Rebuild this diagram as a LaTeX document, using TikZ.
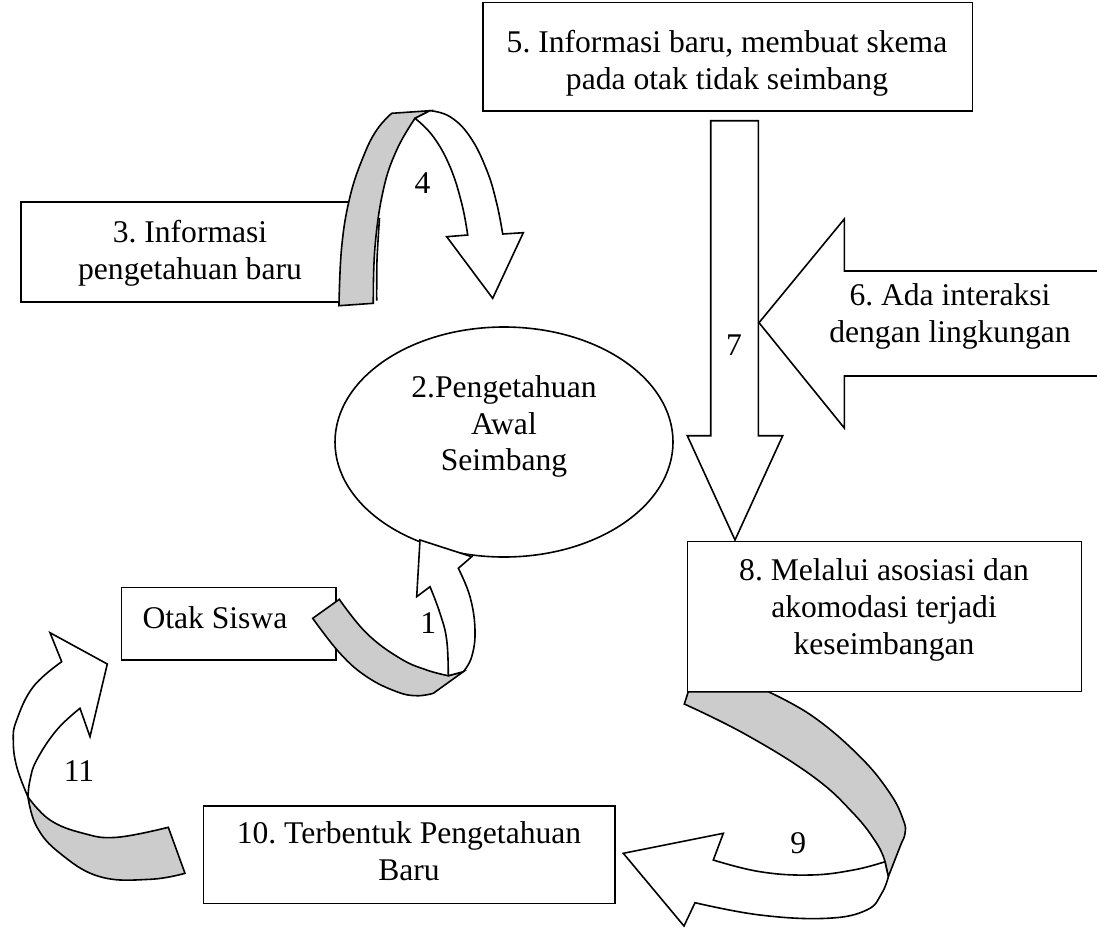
\documentclass[tikz,border=0pt]{standalone}
\usepackage{fontspec}
\setmainfont{Liberation Serif}
\usetikzlibrary{shapes.geometric}
\definecolor{bandgray}{gray}{0.8}
\frenchspacing
\begin{document}
\begin{tikzpicture}[x=0.5pt,y=-0.5pt, line width=0.8pt, line join=miter,
  txt/.style={anchor=base, inner sep=0pt, font=\fontsize{15.8pt}{18.5pt}\selectfont},
  boxnode/.style={draw, fill=white, anchor=north west, inner sep=0pt},
  band/.style={draw, fill=bandgray},
  front/.style={draw, fill=white}]
\useasboundingbox (0,0) rectangle (1097,927);

% ---- box 5
\node[boxnode, minimum width=244.85pt, minimum height=54.25pt] (b5) at (482,1.5) {};
\node[txt] (t5a) at (727,52) {5. Informasi baru, membuat skema};
\node[txt] (t5b) at (727,89) {pada otak tidak seimbang};

% ---- box 3
\node[boxnode, minimum width=167.5pt, minimum height=50pt] (b3) at (20,201) {};
\node[txt] (t3a) at (190,242) {3. Informasi};
\node[txt] (t3b) at (190,279) {pengetahuan baru};

% ---- arrow 4
\path[band] plot[smooth, tension=0.7] coordinates {(339,305.7) (341.7,246.7) (350,196.7) (363.3,156.7) (376.7,130) (391.7,113.3)}
  -- (430,110.7) -- (415,118.3)
  -- plot[smooth, tension=0.7] coordinates {(415,118.3) (396.7,150) (383.3,190) (375,246.7) (373.3,303.3)} -- cycle;
\draw plot[smooth] coordinates {(376.7,300.7) (377,260) (379.5,218)};
\path[front] (430,110.7) -- plot[smooth, tension=0.7] coordinates {(430,110.7) (450,116.7) (470,136.7) (486.7,170) (496.7,203.3) (502.7,234)}
  -- (523.3,232.7) -- (492.7,298.3) -- (446.7,236.7)
  -- plot[smooth, tension=0.7] coordinates {(467.7,235) (461.7,203.3) (450,166.7) (433.3,136.7) (415,118.3)} -- cycle;
\node[txt] (n4) at (422.5,193) {4};

% ---- ellipse 2
\node[draw, ellipse, fill=white, minimum width=169pt, minimum height=115pt, inner sep=0pt] (e2) at (504,442) {};
\node[txt] (t2a) at (504,397.3) {2.Pengetahuan};
\node[txt] (t2b) at (504,434) {Awal};
\node[txt] (t2c) at (504,470) {Seimbang};

% ---- Otak Siswa
\node[boxnode, minimum width=107.15pt, minimum height=36.15pt] (bo) at (120.7,586.7) {};
\node[txt, anchor=base west] (to) at (141.7,628.3) {Otak Siswa};

% ---- arrow 1
\path[band] plot[smooth, tension=0.7] coordinates {(312.7,618.3) (340,653.3) (366.7,676.7) (396.7,691.7) (416.7,695.7) (433.3,693.3)}
  -- (463.3,671.7) -- (448.3,675.7)
  -- plot[smooth, tension=0.7] coordinates {(448.3,675.7) (426.7,670) (400,658.3) (366.7,633.3) (339.3,599.3)} -- cycle;
\path[front] (448.3,675.7) -- plot[smooth, tension=0.7] coordinates {(448.3,675.7) (446.7,640) (440,613.3) (430,586.7)}
  -- (416.7,596.7) -- (420,540) -- (471.7,556.7) -- (458.3,568.3)
  -- plot[smooth, tension=0.7] coordinates {(458.3,568.3) (470,596.7) (475,630) (471.7,656.7) (463.3,671.7)} -- cycle;
\node[txt] (n1) at (428.3,633) {1};

% ---- arrow 7
\path[front] (710.7,120.7) -- (758.3,120.7) -- (758.3,435.7) -- (782.7,435.7) -- (735,540) -- (687.3,435.7) -- (710.7,435.7) -- cycle;
\node[txt] (n7) at (734,355) {7};

% ---- arrow 6
\path[front] (1110,271) -- (844.3,271) -- (844.3,219) -- (759,322.7) -- (844.3,428) -- (844.3,376) -- (1110,376) -- cycle;
\node[txt] (t6a) at (950,305) {6. Ada interaksi};
\node[txt] (t6b) at (950,342.7) {dengan lingkungan};

% ---- arrow 9
\path[band] (688.3,691.7) -- (684.3,704)
  -- plot[smooth, tension=0.7] coordinates {(684.3,704) (746.7,735) (813.3,776.7) (853.3,813.3) (876.7,843.3) (885,861.7)}
  -- (888.3,876.7)
  -- plot[smooth, tension=0.7] coordinates {(888.3,876.7) (900,846.7) (905,833.3) (903.3,820) (890,793.3) (860,756.7) (813.3,716.7) (768.3,691.7)} -- cycle;
\path[front] (885,861.7) -- plot[smooth, tension=0.7] coordinates {(885,861.7) (853.3,870) (810,875) (760,871.7) (713.3,860)}
  -- (723.3,833.3) -- (623.3,853.3) -- (684,926) -- (695,902.7)
  -- plot[smooth, tension=0.7] coordinates {(695,902.7) (760,915) (826.7,918.3) (866.7,910) (881.7,893.3) (888.3,876.7)} -- cycle;
\node[txt] (n9) at (798.3,853) {9};

% ---- box 8
\node[boxnode, minimum width=197pt, minimum height=75pt] (b8) at (686.7,540.7) {};
\node[txt] (t8a) at (884,580) {8. Melalui asosiasi dan};
\node[txt] (t8b) at (884,617) {akomodasi terjadi};
\node[txt] (t8c) at (884,654) {keseimbangan};

% ---- box 10
\node[boxnode, minimum width=205.8pt, minimum height=48.85pt] (b10) at (202.7,805) {};
\node[txt] (t10a) at (409,843.3) {10. Terbentuk Pengetahuan};
\node[txt] (t10b) at (409,880) {Baru};

% ---- arrow 11
\path[band] (28,797) -- plot[smooth, tension=0.7] coordinates {(28,797) (50,820) (83.3,833.3) (116.7,837.3) (168.3,827.3)}
  -- (185,873.3)
  -- plot[smooth, tension=0.7] coordinates {(185,873.3) (150,879.3) (100,876.7) (60,853.3) (36.7,826.7) (28,797)} -- cycle;
\path[front] (28,797) -- plot[smooth, tension=0.7] coordinates {(28,797) (16.7,766.7) (13.3,740) (16.7,720) (33.3,686.7) (61.7,661.7)}
  -- (50,632.7) -- (107.3,664) -- (90,736.7) -- (80,708.3)
  -- plot[smooth, tension=0.7] coordinates {(80,708.3) (56.7,730) (36.7,760) (30,780) (28,797)} -- cycle;
\node[txt] (n11) at (79,781) {11};
\end{tikzpicture}
\end{document}
